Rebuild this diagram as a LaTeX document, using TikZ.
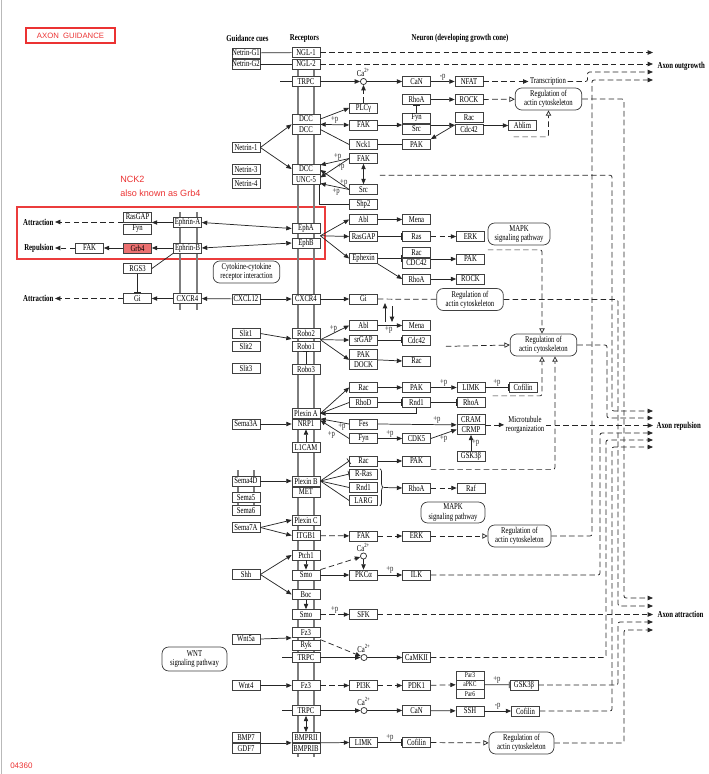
\documentclass[tikz,border=0pt]{standalone}
\usepackage{fontspec}
\setmainfont{Liberation Serif}[FakeStretch=0.75]
\newfontfamily\redsans{Liberation Sans}
\usepackage{tikz}
\usetikzlibrary{arrows.meta,calc,decorations.pathreplacing}

\definecolor{keggred}{RGB}{235,50,50}
\definecolor{ephframe}{RGB}{235,60,60}
\definecolor{grbfill}{RGB}{236,112,112}
\definecolor{membrane}{RGB}{125,125,125}

\newcommand{\keggsize}{\fontsize{6.7}{6.9}\selectfont}
\newcommand{\parsize}{\fontsize{5.5}{5.8}\selectfont}
\newcommand{\headsize}{\fontsize{6.8}{7.2}\selectfont\bfseries}

\tikzset{
  gene/.style={draw=black!75, fill=white, line width=0.55pt, inner sep=0pt, minimum width=21pt, minimum height=7.5pt, font=\keggsize},
  pargene/.style={gene, minimum height=6.9pt, font=\parsize},
  pathway/.style={draw=black!75, fill=white, line width=0.55pt, rounded corners=5pt, inner sep=0pt, minimum width=50pt, minimum height=16.5pt, align=center, font=\keggsize},
  plaintext/.style={inner sep=1pt, align=center, font=\keggsize},
  heading/.style={inner sep=1pt, font=\headsize},
  lbl/.style={inner sep=0.6pt, font=\keggsize},
  calcium/.style={circle, draw=black!80, fill=white, line width=0.55pt, inner sep=0pt, minimum size=4.6pt},
  link/.style={line width=0.55pt, black!85},
  act/.style={link, -{Triangle[length=4pt,width=3.3pt]}},
  both/.style={link, {Triangle[length=4pt,width=3.3pt]}-{Triangle[length=4pt,width=3.3pt]}},
  inh/.style={link, -{Bar[width=5pt]}},
  opentip/.style={link, -{Triangle[open,length=4pt,width=4pt,fill=white]}},
  indirect/.style={dash pattern=on 4.2pt off 2.4pt},
  lane/.style={indirect, rounded corners=1.5pt},
  wall/.style={draw=membrane, line width=2.2pt},
}

\begin{document}
\begin{tikzpicture}[x=0.75pt,y=0.75pt,yscale=-1,xscale=1]
\useasboundingbox (0,0) rectangle (708,774);

% page edge
\draw[gray!55, line width=0.8pt] (1.5,0) -- (1.5,774);

% title and notes
\node[draw=keggred, line width=0.9pt, minimum width=66.75pt, minimum height=11.25pt, inner sep=0pt, text=keggred, font=\redsans\fontsize{5.8}{6}\selectfont] (title) at (70.5,35.5) {AXON\ \ GUIDANCE};
\node[anchor=west, inner sep=0pt, text=keggred, font=\redsans\fontsize{6.8}{7}\selectfont] (nckname) at (120,179) {NCK2};
\node[anchor=west, inner sep=0pt, text=keggred, font=\redsans\fontsize{6.8}{7}\selectfont] (nckalias) at (120,193.5) {also known as Grb4};
\node[anchor=west, inner sep=0pt, text=keggred, font=\redsans\fontsize{6}{6}\selectfont] (mapid) at (10,766) {04360};

% Eph frame
\draw[draw=ephframe, line width=0.85pt] (17,207) rectangle (325,259);

% membranes
\draw[wall] (298,66) -- (298,757);
\draw[wall] (314,66) -- (314,757);
\draw[wall] (180,212) -- (180,310);
\draw[wall] (197,212) -- (197,310);
\draw[wall] (238,470) -- (238,508);
\draw[wall] (254,470) -- (254,508);

% headings
\node[heading] (hcues) at (247.5,38) {Guidance cues};
\node[heading] (hrec) at (304.5,38) {Receptors};
\node[heading] (hneuron) at (460,38) {Neuron (developing growth cone)};
\node[heading, anchor=east] (attrleft1) at (55,222) {Attraction};
\node[heading, anchor=east] (repleft) at (55,248) {Repulsion};
\node[heading, anchor=east] (attrleft2) at (55,298.5) {Attraction};
\node[heading, anchor=west] (outtxt) at (656,66) {Axon outgrowth};
\node[heading, anchor=west] (reptxt) at (655,426) {Axon repulsion};
\node[heading, anchor=west] (attrtxt) at (656,614.5) {Axon attraction};

% guidance cues
\node[gene] (ng1) at (246,53) {Netrin-G1};
\node[gene] (ng2) at (246,64) {Netrin-G2};
\node[gene] (net1) at (246,147.5) {Netrin-1};
\node[gene] (net3) at (246,169.5) {Netrin-3};
\node[gene] (net4) at (246,183.5) {Netrin-4};
\node[gene] (cxcl) at (246,299) {CXCL12};
\node[gene] (slit1) at (246,333.5) {Slit1};
\node[gene] (slit2) at (246,346.5) {Slit2};
\node[gene] (slit3) at (246,368) {Slit3};
\node[gene] (sema3a) at (246,424) {Sema3A};
\node[gene] (sema4d) at (246,481) {Sema4D};
\node[gene] (sema5) at (246,497.5) {Sema5};
\node[gene] (sema6) at (246,510.5) {Sema6};
\node[gene] (sema7a) at (246,527.5) {Sema7A};
\node[gene] (shh) at (246,574.5) {Shh};
\node[gene] (wnt5a) at (246,639) {Wnt5a};
\node[gene] (wnt4) at (246,685.5) {Wnt4};
\node[gene] (bmp7) at (246,737.5) {BMP7};
\node[gene] (gdf7) at (246,748.5) {GDF7};

% receptors
\node[gene] (ngl1) at (306,52.5) {NGL-1};
\node[gene] (ngl2) at (306,64) {NGL-2};
\node[gene] (trpc1) at (306,81.5) {TRPC};
\node[gene] (dcca) at (306,119) {DCC};
\node[gene] (dccb) at (306,129.5) {DCC};
\node[gene] (dccc) at (306,169) {DCC};
\node[gene] (unc5) at (306,179.5) {UNC-5};
\node[gene] (epha) at (306,228.5) {EphA};
\node[gene] (ephb) at (306,243) {EphB};
\node[gene] (cxcr4r) at (306,299) {CXCR4};
\node[gene] (robo2) at (306,333.5) {Robo2};
\node[gene] (robo1) at (306,346) {Robo1};
\node[gene] (robo3) at (306,369) {Robo3};
\node[gene] (plexa) at (306,413.5) {Plexin A};
\node[gene] (nrp1) at (306,424) {NRP1};
\node[gene] (l1cam) at (306,447.5) {L1CAM};
\node[gene] (plexb) at (306,481) {Plexin B};
\node[gene] (met) at (306,492) {MET};
\node[gene] (plexc) at (306,520) {Plexin C};
\node[gene] (itgb1) at (306,535.5) {ITGB1};
\node[gene] (ptch1) at (306,555) {Ptch1};
\node[gene] (smo1) at (306,575) {Smo};
\node[gene] (boc) at (306,594.5) {Boc};
\node[gene] (smo2) at (306,614.5) {Smo};
\node[gene] (fz3a) at (306,632.5) {Fz3};
\node[gene] (ryk) at (306,645) {Ryk};
\node[gene] (trpc2) at (306,657.5) {TRPC};
\node[gene] (fz3b) at (306,685.5) {Fz3};
\node[gene] (trpc3) at (306,710.5) {TRPC};
\node[gene] (bmpr2) at (306,737.5) {BMPRII};
\node[gene] (bmpr1b) at (306,748.5) {BMPRIB};

% ephrin side
\node[gene] (ephrina) at (187.5,222.5) {Ephrin-A};
\node[gene] (ephrinb) at (187.5,248) {Ephrin-B};
\node[gene] (cxcr4l) at (187.5,298.5) {CXCR4};
\node[gene] (rasgapl) at (137.5,217) {RasGAP};
\node[gene] (fynl) at (137.5,229) {Fyn};
\node[gene, fill=grbfill] (grb4) at (137.5,248) {Grb4};
\node[gene] (rgs3) at (137.5,268.5) {RGS3};
\node[gene] (gil) at (137.5,298.5) {Gi};
\node[gene] (fakl) at (89.5,248) {FAK};

% first column in the neuron
\node[gene] (plcg) at (363.5,108) {PLCγ};
\node[gene] (faka) at (363.5,125) {FAK};
\node[gene] (nck1) at (363.5,144.5) {Nck1};
\node[gene] (fakb) at (363.5,158.5) {FAK};
\node[gene] (srcb) at (363.5,189.5) {Src};
\node[gene] (shp2) at (363.5,204.5) {Shp2};
\node[gene] (abla) at (363.5,219.5) {Abl};
\node[gene] (rasgapr) at (363.5,236.5) {RasGAP};
\node[gene] (ephexin) at (363.5,258.5) {Ephexin};
\node[gene] (gir) at (363.5,299) {Gi};
\node[gene] (ablb) at (363.5,325.5) {Abl};
\node[gene] (srgap) at (363.5,340) {srGAP};
\node[gene] (pak2) at (363.5,354.5) {PAK};
\node[gene] (dock) at (363.5,364.5) {DOCK};
\node[gene] (rac3) at (363.5,387.5) {Rac};
\node[gene] (rhod) at (363.5,402.5) {RhoD};
\node[gene] (fes) at (363.5,424) {Fes};
\node[gene] (fyn3) at (363.5,438.5) {Fyn};
\node[gene] (rac4) at (363.5,461) {Rac};
\node[gene] (rras) at (363.5,474) {R-Ras};
\node[gene] (rnd1b) at (363.5,487.5) {Rnd1};
\node[gene] (larg) at (363.5,500.5) {LARG};
\node[gene] (fak3) at (363.5,536) {FAK};
\node[gene] (pkca) at (363.5,575) {PKCα};
\node[gene] (sfk) at (363.5,614.5) {SFK};
\node[gene] (pi3k) at (363.5,685.5) {PI3K};
\node[gene] (limk2) at (363.5,742.5) {LIMK};

% second column
\node[gene] (can1) at (416.5,81.5) {CaN};
\node[gene] (rhoa1) at (416.5,99.5) {RhoA};
\node[gene] (fyn1) at (416.5,118) {Fyn};
\node[gene] (src1) at (416.5,129) {Src};
\node[gene] (pak1) at (416.5,144.5) {PAK};
\node[gene] (mena1) at (416.5,219.5) {Mena};
\node[gene] (ras) at (416.5,236.5) {Ras};
\node[gene] (rac2) at (416.5,252.5) {Rac};
\node[gene] (cdc42a) at (416.5,263) {CDC42};
\node[gene] (rhoa2) at (416.5,279) {RhoA};
\node[gene] (mena2) at (416.5,325.5) {Mena};
\node[gene] (cdc42b) at (416.5,340) {Cdc42};
\node[gene] (rac5) at (416.5,361) {Rac};
\node[gene] (pak3) at (416.5,387.5) {PAK};
\node[gene] (rnd1a) at (416.5,402.5) {Rnd1};
\node[gene] (cdk5) at (416.5,438.5) {CDK5};
\node[gene] (pak4) at (416.5,461) {PAK};
\node[gene] (rhoa3) at (416.5,488) {RhoA};
\node[gene] (erk3) at (416.5,536) {ERK};
\node[gene] (ilk) at (416.5,575) {ILK};
\node[gene] (camk2) at (416.5,657.5) {CaMKII};
\node[gene] (pdk1) at (416.5,685.5) {PDK1};
\node[gene] (can2) at (416.5,710.5) {CaN};
\node[gene] (cofilin4) at (416.5,742.5) {Cofilin};

% third column
\node[gene] (nfat) at (469,81.5) {NFAT};
\node[gene] (rock1) at (469,99.5) {ROCK};
\node[gene] (rac1) at (469,117.5) {Rac};
\node[gene] (cdc42c) at (469,129.5) {Cdc42};
\node[gene] (erk2) at (470.5,236.5) {ERK};
\node[gene] (pak5) at (470.5,259) {PAK};
\node[gene] (rock2) at (470.5,279) {ROCK};
\node[gene] (limk1) at (471,387.5) {LIMK};
\node[gene] (rhoa4) at (471,402.5) {RhoA};
\node[gene] (cram) at (471,419.5) {CRAM};
\node[gene] (crmp) at (471,429.5) {CRMP};
\node[gene] (gsk3b1) at (471,456.5) {GSK3β};
\node[gene] (raf) at (471,488) {Raf};
\node[pargene] (par3) at (470,675.5) {Par3};
\node[pargene] (apkc) at (470,684.5) {aPKC};
\node[pargene] (par6) at (470,694) {Par6};
\node[gene] (ssh) at (470,711) {SSH};

% fourth column
\node[gene] (ablim) at (522.5,125.5) {Ablim};
\node[gene] (cofilin1) at (523,387.5) {Cofilin};
\node[gene] (gsk3b2) at (524,685) {GSK3β};
\node[gene] (cofilin3) at (525.5,711) {Cofilin};

% pathway maps
\node[pathway] (reg1) at (548.5,99) {Regulation of\\actin cytoskeleton};
\node[pathway, minimum width=46.5pt] (mapk1) at (519,234) {MAPK\\signaling pathway};
\node[pathway] (cytok) at (246.5,272) {Cytokine-cytokine\\receptor interaction};
\node[pathway] (reg2) at (470,299.5) {Regulation of\\actin cytoskeleton};
\node[pathway] (reg3) at (543.5,345) {Regulation of\\actin cytoskeleton};
\node[pathway, minimum width=48pt, minimum height=15.75pt] (mapk2) at (453,512.5) {MAPK\\signaling pathway};
\node[pathway, minimum width=47.25pt] (reg4) at (519.5,536) {Regulation of\\actin cytoskeleton};
\node[pathway, minimum width=48.75pt, minimum height=18pt] (wnt) at (194.5,659) {WNT\\signaling pathway};
\node[pathway, minimum width=48.75pt] (reg5) at (521.5,743) {Regulation of\\actin cytoskeleton};

% plain texts
\node[plaintext] (transc) at (548,81.5) {Transcription};
\node[plaintext] (micro) at (525,425) {Microtubule\\reorganization};

% calcium
\node[calcium, label={[lbl]above:Ca\textsuperscript{2+}}] (ca1) at (363.5,81.5) {};
\node[calcium, label={[lbl]above:Ca\textsuperscript{2+}}] (ca2) at (363.5,556) {};
\node[calcium, label={[lbl]above:Ca\textsuperscript{2+}}] (ca3) at (364,657.5) {};
\node[calcium, label={[lbl]above:Ca\textsuperscript{2+}}] (ca4) at (364,710.5) {};

% free ends
\coordinate (outA) at (653,52.5);
\coordinate (outB) at (653,64);
\coordinate (outC) at (653,72);
\coordinate (outD) at (653,80);
\coordinate (repA) at (653,411);
\coordinate (repB) at (653,418);
\coordinate (repC) at (653,425.5);
\coordinate (repD) at (653,433);
\coordinate (repE) at (653,440);
\coordinate (repF) at (653,447);
\coordinate (attrA) at (653,598);
\coordinate (attrB) at (653,606);
\coordinate (attrC) at (653,614.5);
\coordinate (attrD) at (653,622);
\coordinate (attrE) at (653,630);
\coordinate (trpcin1) at (280,81.5);
\coordinate (trpcin2) at (282,657.5);
\coordinate (trpcin3) at (282,710.5);
\coordinate (giup1) at (385,322);
\coordinate (giup2) at (385,303);
\coordinate (gidn1) at (392,306);
\coordinate (gidn2) at (392,322);
\coordinate (ephfork) at ($(epha.south east)!0.5!(ephb.north east)$);
\coordinate (robofork) at ($(robo2.south east)!0.5!(robo1.north east)$);

% Netrin-G / TRPC / DCC
\draw[link] (ng1) -- (ngl1);
\draw[link] (ng2) -- (ngl2);
\draw[act,indirect] (ngl1) -- (outA);
\draw[act,indirect] (ngl2) -- (outB);
\draw[link] (trpcin1) -- (trpc1);
\draw[act] (trpc1) -- (ca1);
\draw[act] (ca1) -- (can1);
\draw[act] (can1) -- node[lbl,above]{-p} (nfat);
\draw[act,indirect] (nfat) -- (transc);
\draw[act,lane] (transc.east) -- ++(20,0) |- (outC);
\draw[act,indirect] (plcg) -- (ca1);
\draw[act] (dcca.east) -- (plcg.west);
\draw[both] (dcca.south east) -- node[lbl,above]{+p} (faka.west);
\draw[link] (dccb.east) -- (nck1.west);
\draw[act] (net1.east) -- (dcca.south west);
\draw[act] (net1.east) -- (dccc.west);
\draw[act] (faka.east) -- (fyn1.south west |- faka.east);
\draw[act] (src1.north east |- faka.east) -- (rac1.south west |- faka.east);
\draw[act] (ablim.west -| cdc42c.east) -- (ablim.west);
\draw[act] (rac1.south west |- faka.east) -- (pak1.north east);
\draw[link] (nck1) -- (pak1);
\draw[act] (rhoa1) -- (rock1);
\draw[inh] (fyn1) -- (rhoa1);
\draw[opentip,indirect] (rock1) -- (reg1);
\draw[opentip,lane] ($(ablim.south)+(-9,6)$) -| (reg1.south);
\draw[act,lane] (reg1.east) -| (624,598) -- (attrA);

% DCC / UNC-5
\draw[act] (fakb.west) -- node[lbl,above,pos=0.4]{+p} ($(dccc.east)+(0,-4)$);
\draw[act] (fakb.west) -- node[lbl,right,pos=0.45]{+p} ($(unc5.east)+(0,-2)$);
\draw[act] (srcb.west) -- node[lbl,right,pos=0.35]{+p} ($(dccc.east)+(0,1)$);
\draw[act] (srcb.west) -- node[lbl,below,pos=0.45]{+p} ($(unc5.east)+(0,4)$);
\draw[both] (fakb) -- (srcb);
\draw[link] ($(unc5.south east)+(-1,0)$) |- (shp2.west);
\draw[act,lane] ($(srcb.north east)+(2,-9)$) -| (612,411) -- (repA);

% Ephrin / Eph
\draw[both] (ephrina.east) -- (epha.west);
\draw[both] (ephrinb.east) -- (ephb.west);
\draw[act] (ephrina.west) -- (rasgapl.east |- ephrina.west);
\draw[act,indirect] (rasgapl.west |- attrleft1.east) -- (attrleft1.east);
\draw[act] (ephrinb) -- (grb4);
\draw[act] (grb4) -- (fakl);
\draw[act,indirect] (fakl) -- (repleft);
\draw[link] (ephrinb.south west) -- (rgs3.east);
\draw[inh] (rgs3) -- (gil);
\draw[act] (cxcr4l) -- (gil);
\draw[act,indirect] (gil) -- (attrleft2);
\draw[act] (ephfork) -- (abla.west);
\draw[act] (ephfork) -- (rasgapr.west);
\draw[act] (ephfork) -- (ephexin.west);
\draw[act] (abla) -- (mena1);
\draw[inh] (rasgapr) -- (ras);
\draw[act,indirect] (ras) -- (erk2);
\draw[inh] (ephexin.east) -- (rac2.south west |- ephexin.east);
\draw[act] (cdc42a.north east |- pak5.west) -- (pak5.west);
\draw[act] (ephexin.south east) -- (rhoa2.west);
\draw[act] (rhoa2) -- (rock2);
\draw[opentip,lane] ($(erk2.south east)+(3,8)$) -| ($(reg3.north)+(-1.5,0)$);

% CXCL12 / CXCR4
\draw[act] (cxcl) -- (cxcr4l);
\draw[act] (cxcl) -- (cxcr4r);
\draw[act] (cxcr4r) -- (gir);
\draw[link,indirect] (gir) -- (reg2);
\draw[act,lane] (reg2.east) -| (618,606) -- (attrB);
\draw[act] (giup1) -- (giup2);
\draw[act] (gidn1) -- (gidn2);

% Slit / Robo
\draw[act] (slit1.east) -- (robo2.south west);
\draw[inh] (robo3) -- (robo1);
\draw[act] (robofork) -- node[lbl,above,pos=0.45]{+p} (ablb.west);
\draw[act] (robofork) -- (srgap.west);
\draw[act] (robofork) -- (pak2.south west);
\draw[act] (ablb) -- node[lbl,below,pos=0.45]{+p} (mena2);
\draw[inh] (srgap) -- (cdc42b);
\draw[act] (pak2.south east) -- (rac5.west);
\draw[opentip,indirect] ($(cdc42b.south east)+(15,1)$) -- (reg3.west);
\draw[act,lane] (reg3.east) -| (607,418) -- (repB);

% Sema3A / Plexin A
\draw[act] (sema3a) -- (nrp1);
\draw[act] (l1cam) -- (nrp1);
\draw[act] (plexa.east) -- (rac3.west);
\draw[link] (plexa.east) -- (rhod.west);
\draw[act] (rnd1a.south) |- (plexa.east);
\draw[act] (fes.west) -- node[lbl,below,pos=0.25]{+p} (plexa.south east);
\draw[act] (fyn3.west) -- node[lbl,below left,pos=0.45]{+p} ($(plexa.south east)+(0,1.5)$);
\draw[inh] (rhod) -- (rnd1a);
\draw[inh] (rnd1a) -- (rhoa4);
\draw[act] (rac3) -- (pak3);
\draw[act] (pak3) -- node[lbl,above]{+p} (limk1);
\draw[inh] (limk1) -- node[lbl,above]{+p} (cofilin1);
\draw[opentip,lane] ($(cofilin1.south west)+(-16,3)$) -| ($(reg3.south)+(-1.5,0)$);
\draw[act] (fes.east) -- node[lbl,above,pos=0.75]{+p} (cram.south west);
\draw[act] (fyn3) -- node[lbl,above]{+p} (cdk5);
\draw[act] (cdk5.east) -- node[lbl,below]{+p} (crmp.west);
\draw[act] (gsk3b1) -- node[lbl,right]{+p} (crmp);
\draw[act,indirect] (cram.south east) -- (micro.west |- cram.south east);
\draw[act,indirect] (micro.east |- repC) -- (repC);

% Sema4D / Plexin B
\draw[act] (sema4d) -- (plexb);
\draw[inh] (plexb.east) -- (rac4.west);
\draw[inh] (plexb.east) -- (rras.west);
\draw[link] (plexb.east) -- (rnd1b.west);
\draw[link] (plexb.east) -- (larg.west);
\draw[act] (rac4) -- (pak4);
\draw[link, decorate, decoration={brace, amplitude=2.5pt}] ($(rras.north east)+(2,0)$) -- ($(larg.south east)+(2,0)$);
\draw[act] ($(rnd1b.east)+(6,0)$) -- (rhoa3.west);
\draw[act,indirect] (rhoa3) -- (raf);
\draw[opentip,lane] ($(pak4.south east)+(0,3)$) -| ($(reg3.south)+(11.5,0)$);

% Sema7A / Plexin C / ITGB1
\draw[act] (sema7a.east) -- (plexc.west);
\draw[act] (sema7a.east) -- (itgb1.west);
\draw[act,indirect] (itgb1) -- (fak3);
\draw[act,indirect] (fak3) -- (erk3);
\draw[opentip,indirect] (erk3) -- (reg4);
\draw[act,lane] (reg4.east) -| (592,80) -- (outD);

% Shh
\draw[act] (shh.east) -- (ptch1.west);
\draw[act] (shh.east) -- (boc.west);
\draw[act] (ptch1) -- (smo1);
\draw[act] (boc) -- (smo2);
\draw[act,indirect] (smo1.north east) -- (ca2);
\draw[act] (ca2) -- (pkca);
\draw[act] (smo1) -- (pkca);
\draw[act] (pkca) -- node[lbl,above]{+p} (ilk);
\draw[act,lane] (ilk.east) -| (600,433) -- (repD);
\draw[act,indirect] (smo2) -- node[lbl,above]{+p} (sfk);
\draw[act,indirect] (sfk) -- (attrC);

% Wnt
\draw[act] (wnt5a.east) -- (fz3a.south west);
\draw[act,indirect] (ryk.north east) -- (ca3);
\draw[link] (trpcin2) -- (trpc2);
\draw[act] (trpc2) -- (ca3);
\draw[act] (ca3) -- (camk2);
\draw[act,lane] (camk2.east) -| (606,440) -- (repE);
\draw[act] (wnt4) -- (fz3b);
\draw[act,indirect] (fz3b) -- (pi3k);
\draw[act,indirect] (pi3k) -- (pdk1);
\draw[act,indirect] (pdk1) -- (apkc);
\draw[inh] (apkc) -- node[lbl,above]{+p} (gsk3b2);
\draw[act,lane] (gsk3b2.east) -| (618,622) -- (attrD);

% TRPC / BMP
\draw[link] (trpcin3) -- (trpc3);
\draw[act] (trpc3) -- (ca4);
\draw[both] (trpc3) -- (bmpr2);
\draw[act] (ca4) -- (can2);
\draw[act] (can2) -- (ssh);
\draw[act] (ssh) -- node[lbl,above]{-p} (cofilin3);
\draw[act,lane] (cofilin3.east) -| (612,447) -- (repF);
\draw[act] (bmp7.south east) -- (bmpr2.south west);
\draw[act] (bmpr2.south east) -- (limk2.west);
\draw[inh] (limk2) -- node[lbl,above]{+p} (cofilin4);
\draw[opentip,indirect] (cofilin4) -- (reg5);
\draw[act,lane] (reg5.east) -| (624,630) -- (attrE);
\end{tikzpicture}
\end{document}
